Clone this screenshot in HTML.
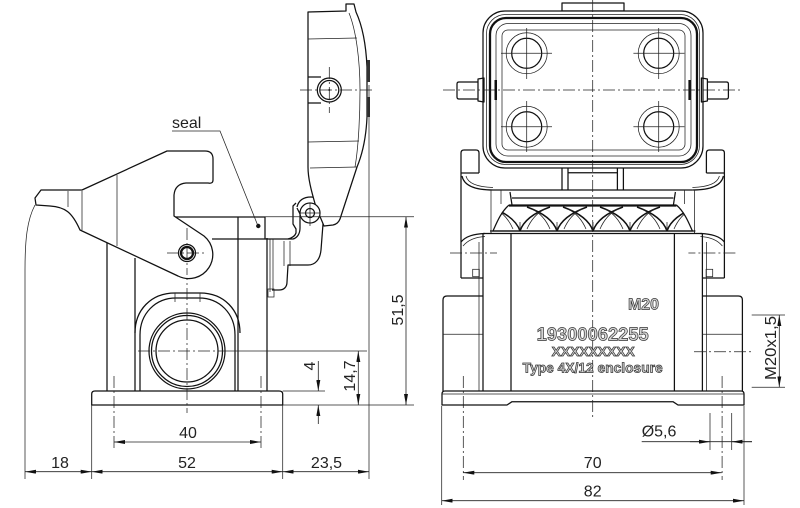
<!DOCTYPE html>
<html><head><meta charset="utf-8"><style>
html,body{margin:0;padding:0;background:#fff;}
svg{display:block;}
text{font-family:"Liberation Sans",sans-serif;}
.o{fill:none;stroke:#111;stroke-width:1.25;stroke-linejoin:round;}
.w{fill:#fff;stroke:#111;stroke-width:1.25;stroke-linejoin:round;}
.k{fill:none;stroke:#111;stroke-width:2.3;}
.t{fill:none;stroke:#222;stroke-width:0.75;}
.c{fill:none;stroke:#222;stroke-width:0.75;stroke-dasharray:12 3 2 3;}
.d{fill:none;stroke:#222;stroke-width:0.8;}
.dm{font-size:16px;fill:#222;}
.ot{font-weight:bold;fill:#d4d4d4;stroke:#333;stroke-width:0.7;}
</style></head><body>
<svg width="800" height="508" viewBox="0 0 800 508" xmlns="http://www.w3.org/2000/svg">
<defs>
<marker id="a" viewBox="0 0 11 4" refX="11" refY="2" markerWidth="11" markerHeight="4" markerUnits="userSpaceOnUse" orient="auto-start-reverse">
<path d="M0,0 L11,2 L0,4 Z" fill="#111"/>
</marker>
</defs>

<!-- ================= LEFT VIEW ================= -->
<path class="o" d="M107,243 L107,391 M135,258 L135,391 M238,217 L238,391 M267,238 L267,391"/>
<path class="o" d="M135,333 C135,310 151,293 175,293 L200,293 C224,293 240,310 240,333"/>
<path class="o" d="M140,391 L140,335 C140,314 155,298 176,298 L199,298 C220,298 235,314 235,335 L235,391"/>
<path class="t" d="M175,293 L175,302 M200,293 L200,302"/>
<circle class="o" cx="187" cy="351" r="38"/>
<circle class="o" cx="187" cy="351" r="35.5"/>
<circle class="o" cx="187" cy="351" r="31"/>
<path class="o" d="M91.7,405 L91.7,394 Q91.7,391 95,391 L279,391 Q282.7,391 282.7,394 L282.7,405 Z"/>
<path class="c" d="M187,228 L187,413"/>
<path class="c" d="M138,351 L227,351"/>
<path class="d" d="M227,351 L367,351"/>
<path class="c" d="M114,376 L114,449 M261,376 L261,449"/>

<path class="o" d="M174,217 L265,217 L265,239 L212,239"/>
<circle cx="258.3" cy="226" r="2.2" fill="#111"/>
<path class="o" d="M265,239 L293,239 C297,238 300,234 300,228 L300,214 L297,208"/>
<path class="t" d="M270,239 L270,292 M273,239 L273,290 M284,241 L284,266 M290,241 L290,266"/>
<path class="o" d="M297,207 C299,199 305,197 311,197 C319,197 324,203 324,211 L321,250 C320,260 315,265 308,265 L288,265 L287,282 C287,287 284,290 279,290 L272,290"/>
<rect class="t" x="268" y="289" width="6" height="8"/>
<path class="o" d="M296,203 L293,206 L293,224 L296,229 L296,233 C295,236 292,238 288,239"/>

<path class="w" d="M308,12 L346,11 L346,4 L354,4 L356,12 C362,25 366,45 367,67 L367,117 C366,140 362,155 357,167 L340,219 Q338,224 333,225 L324,226 L316,207 C311,190 308,178 308,167 Z"/>
<path class="t" d="M349,13 C356,30 360,60 360,90 C360,120 358,150 355,167"/>
<path class="t" d="M308,39 L357,38 M308,142 L359,141 M310,168 L357,167"/>
<path class="o" d="M308,77 L321,77 M308,103 L321,103"/>
<rect x="367" y="60" width="3" height="22" fill="#333"/>
<rect x="367" y="97" width="3" height="20" fill="#333"/>
<circle class="w" cx="329.3" cy="90" r="12"/>
<circle class="o" cx="329.3" cy="90" r="9.5"/>
<circle cx="329.3" cy="90" r="1" fill="#111"/>
<path class="c" d="M300,90 L373,90 M329.3,67 L329.3,113"/>
<circle class="w" cx="310" cy="213" r="10"/>
<circle class="o" cx="310" cy="213" r="4.5"/>
<path class="t" d="M310,203 L310,226 M300,213 L320,213"/>

<path class="w" d="M36,205 L35,198 L41,190 L82,190 L167,151 L205,151 Q213,151 213,159 L213,180 Q213,184 208,183 L186,183 Q175,184 174,195 L174,216 L204,236 A24,24 0 0 1 178,276 L80,230 C72,212 65,207 50,206 Z"/>
<path class="t" d="M68,191 L68,207 M82,191 L82,230 M117,175 L117,246"/>
<circle class="w" cx="187" cy="253" r="8.5"/>
<circle class="k" cx="187" cy="253" r="6"/>
<path class="c" d="M167,253 L207,253 M187,228 L187,275"/>

<path class="t" d="M35,205 C27,220 25,240 25,270 L25,479"/>
<path class="t" d="M91.7,405 L91.7,479 M282.7,405 L282.7,479 M369,85 L369,479"/>
<path class="t" d="M265,216.7 L414,216.7 M282.7,405 L414,405 M282.7,391 L325,391"/>

<text x="172" y="128" class="dm">seal</text>
<path class="t" d="M172,131 L220,131 L258,226"/>

<line class="d" x1="114" y1="442" x2="261" y2="442" marker-start="url(#a)" marker-end="url(#a)"/>
<text x="188" y="438" class="dm" text-anchor="middle">40</text>
<line class="d" x1="25" y1="471.7" x2="91.7" y2="471.7" marker-start="url(#a)" marker-end="url(#a)"/>
<line class="d" x1="91.7" y1="471.7" x2="282.7" y2="471.7" marker-start="url(#a)" marker-end="url(#a)"/>
<line class="d" x1="282.7" y1="471.7" x2="369" y2="471.7" marker-start="url(#a)" marker-end="url(#a)"/>
<text x="60" y="468" class="dm" text-anchor="middle">18</text>
<text x="187" y="468" class="dm" text-anchor="middle">52</text>
<text x="326.5" y="468" class="dm" text-anchor="middle">23,5</text>
<line class="d" x1="406" y1="216.7" x2="406" y2="405" marker-start="url(#a)" marker-end="url(#a)"/>
<text class="dm" text-anchor="middle" transform="translate(403,310) rotate(-90)">51,5</text>
<line class="d" x1="358.3" y1="351" x2="358.3" y2="405" marker-start="url(#a)" marker-end="url(#a)"/>
<text class="dm" text-anchor="middle" transform="translate(355,376) rotate(-90)">14,7</text>
<line class="d" x1="318.3" y1="361" x2="318.3" y2="391" marker-end="url(#a)"/>
<line class="d" x1="318.3" y1="424" x2="318.3" y2="405" marker-end="url(#a)"/>
<text class="dm" text-anchor="middle" transform="translate(315,366) rotate(-90)">4</text>

<!-- ================= FRONT VIEW ================= -->
<rect class="o" x="562" y="3" width="62" height="8"/>
<rect class="w" x="483" y="11" width="220" height="157" rx="22"/>
<rect class="t" x="486.5" y="14.5" width="213" height="150" rx="19"/>
<rect class="k" x="490" y="18" width="207" height="144" rx="16"/>
<rect class="t" x="496" y="23.5" width="195" height="132.5" rx="12"/>
<rect class="t" x="502" y="30" width="183" height="120" rx="6"/>

<g id="fl">
<circle class="t" cx="526.7" cy="53.3" r="20.5"/>
<circle class="o" cx="526.7" cy="53.3" r="15"/>
<circle class="t" cx="526.7" cy="126.7" r="20.5"/>
<circle class="o" cx="526.7" cy="126.7" r="15"/>
<path class="t" d="M501,53.3 L552,53.3 M526.7,28 L526.7,79 M501,126.7 L552,126.7 M526.7,101 L526.7,152"/>
<path class="o" d="M478,82 L459,82 Q457,82 457,84 L457,97 Q457,99 459,99 L478,99"/>
<path class="o" d="M478,79 L484,78 L484,102 L478,101 Z"/>
<rect x="494.5" y="80" width="2.5" height="20" fill="#111"/>
<path class="o" d="M461,278 L461,153 Q461,150 464,150 L476,150 Q479,150 479,153 L479,173 M461,173 L479,173"/>
<path class="o" d="M462,176 C464,186 475,190 493,190"/>
<path class="t" d="M466,176 C468,184 478,187 493,187.5"/>
<path class="o" d="M493,190 L592.7,190"/>
<path class="o" d="M562,168 L562,190 M568,168 L568,190 M568,172.7 L592.7,172.7"/>
<path class="t" d="M491,190 L491,233 M501,190 L501,204"/>
<path class="o" d="M510,192 L512,205 M512,198 L592.7,198"/>
<path class="k" d="M509,205.5 L592.7,205.5"/>
<path class="o" d="M490,231 L592.7,231 M483,233.5 L592.7,233.5"/>
<path class="o" d="M461,242 C466,236 474,234 485,233.5"/>
<path class="t" d="M463,246 C468,240 476,237 485,236.5"/>
<path class="o" d="M461,278 L483,278 M483,233 L483,391"/>
<path class="t" d="M479,242 L479,391"/>
<rect class="t" x="472.7" y="269.3" width="6.6" height="7.4"/>
<path class="c" d="M450,253 L497,253"/>
<path class="o" d="M511,233 L511,391"/>
<path class="o" d="M483,296 L447,296 Q443,296 443,300 L443,391"/>
<path class="t" d="M443,334.3 L483,334.3"/>
<path class="c" d="M463.3,376 L463.3,480"/>
</g>
<use href="#fl" transform="translate(1185.4,0) scale(-1,1)"/>

<!-- knurl pattern: crossing X arms -->
<g class="o" style="stroke-width:1.5">
<path d="M520,231 Q525,216 550,207 M520,231 Q515,216 490,207"/>
<path d="M557,231 Q562,216 587,207 M557,231 Q552,216 527,207"/>
<path d="M593,231 Q598,216 623,207 M593,231 Q588,216 563,207"/>
<path d="M630,231 Q635,216 660,207 M630,231 Q625,216 600,207"/>
<path d="M667,231 Q672,216 697,207 M667,231 Q662,216 637,207"/>
</g>
<g class="t">
<path d="M520,222 L520,231 M557,222 L557,231 M593,222 L593,231 M630,222 L630,231 M667,222 L667,231"/>
<path d="M527,229 Q533,215 545,209 M513,229 Q507,215 495,209"/>
<path d="M564,229 Q570,215 582,209 M550,229 Q544,215 532,209"/>
<path d="M600,229 Q606,215 618,209 M586,229 Q580,215 568,209"/>
<path d="M637,229 Q643,215 655,209 M623,229 Q617,215 605,209"/>
<path d="M674,229 Q680,215 692,209 M660,229 Q654,215 642,209"/>
</g>
<path d="M480,204 L508.5,204 C500.5,212 496.5,222 492,232 L480,232 Z" fill="#fff"/>
<path d="M705,204 L676.9,204 C684.9,212 688.9,222 693.4,232 L705,232 Z" fill="#fff"/>
<path class="o" d="M509,205 C501,212 497,222 493,231 M676.4,205 C684.4,212 688.4,222 692.4,231"/>
<path class="t" d="M491,204 L491,233 M694.4,204 L694.4,233"/>
<path class="o" d="M490,231 L695.4,231"/>

<path class="o" d="M445,391 L741,391 Q744,391 744,394 L744,405 L678,405 L673,401.7 L512,401.7 L507,405 L442,405 L442,394 Q442,391 445,391 Z"/>
<path class="t" d="M442,394 L744,394"/>

<path class="c" d="M592.7,0 L592.7,417"/>
<path class="c" d="M443,90 L742,90"/>

<text x="628" y="309.5" class="ot" font-size="16" textLength="31" lengthAdjust="spacingAndGlyphs">M20</text>
<text x="536.7" y="340.7" class="ot" font-size="18" textLength="112" lengthAdjust="spacingAndGlyphs">19300062255</text>
<text x="551.7" y="356" class="ot" font-size="13" textLength="83" lengthAdjust="spacingAndGlyphs">XXXXXXXXX</text>
<text x="522.7" y="372.5" class="ot" font-size="13.5" textLength="140" lengthAdjust="spacingAndGlyphs">Type 4X/12 enclosure</text>

<path class="t" d="M441.7,406 L441.7,505 M744,406 L744,505 M710,413 L710,450 M731.7,413 L731.7,450"/>
<path class="d" d="M641.7,441.7 L752,441.7"/>
<line class="d" x1="690" y1="441.7" x2="710" y2="441.7" marker-end="url(#a)"/>
<line class="d" x1="752" y1="441.7" x2="731.7" y2="441.7" marker-end="url(#a)"/>
<text x="641.7" y="436.5" class="dm">Ø5,6</text>
<line class="d" x1="463.3" y1="472.7" x2="721.7" y2="472.7" marker-start="url(#a)" marker-end="url(#a)"/>
<text x="592.7" y="468" class="dm" text-anchor="middle">70</text>
<line class="d" x1="441.7" y1="500.7" x2="744" y2="500.7" marker-start="url(#a)" marker-end="url(#a)"/>
<text x="592.7" y="496.5" class="dm" text-anchor="middle">82</text>
<path class="t" d="M751.7,315 L785,315 M751.7,387.3 L785,387.3"/>
<path class="c" d="M694,351.7 L752,351.7"/>
<line class="d" x1="779.3" y1="315" x2="779.3" y2="387.3" marker-start="url(#a)" marker-end="url(#a)"/>
<text class="dm" text-anchor="middle" textLength="64" lengthAdjust="spacingAndGlyphs" transform="translate(776,348) rotate(-90)">M20x1,5</text>
</svg>
</body></html>
